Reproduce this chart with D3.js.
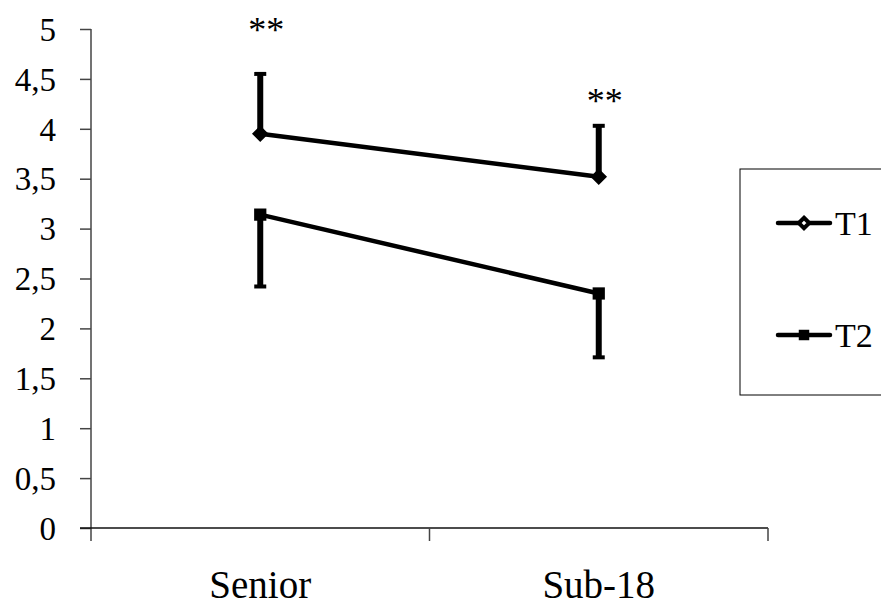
<!DOCTYPE html>
<html>
<head>
<meta charset="utf-8">
<script src="https://cdn.jsdelivr.net/npm/d3@7"></script>
<style>
  body { margin: 0; background: #fff; }
  text { font-family: "Liberation Serif", "Times New Roman", serif; fill: #000; }
</style>
</head>
<body>
<div id="chart"></div>
<script>
var width = 881,
    height = 607,
    marginLeft = 91,
    marginTop = 29,
    plotRight = 768,
    plotBottom = 528;

// data
var groups = ["Senior", "Sub-18"];
var seriesNames = ["T1", "T2"];
var t1Values = [3.95, 3.52];
var t1Errors = [0.60, 0.51];   // drawn upward
var t2Values = [3.14, 2.35];
var t2Errors = [0.72, 0.64];   // drawn downward
var yTicks = [0, 0.5, 1, 1.5, 2, 2.5, 3, 3.5, 4, 4.5, 5];
var starLabels = ["**", "**"];
var starValues = [5.05, 4.34];

var svg = d3.select("#chart").append("svg")
    .attr("width", width)
    .attr("height", height);

var x = d3.scaleBand()
    .domain(groups)
    .range([marginLeft, plotRight]);

var y = d3.scaleLinear()
    .domain([0, 5])
    .range([plotBottom, marginTop]);

// y axis
var yAxisG = svg.append("g")
    .attr("transform", `translate(${marginLeft},0)`)
    .call(d3.axisLeft(y).tickValues(yTicks).tickSize(11).tickSizeOuter(0)
        .tickFormat(d => String(d).replace(".", ",")));
yAxisG.select(".domain").remove();
yAxisG.selectAll(".tick line").attr("stroke", "#444").attr("stroke-width", 1.5);
yAxisG.selectAll(".tick text")
    .attr("x", -35)
    .attr("dy", "0.34em")
    .style("font-size", "33px")
    .style("font-family", "Liberation Serif, serif");
yAxisG.append("line")
    .attr("x1", 0).attr("x2", 0)
    .attr("y1", y(5)).attr("y2", plotBottom + 13)
    .attr("stroke", "#444").attr("stroke-width", 1.5);

// x axis
svg.append("line")
    .attr("x1", marginLeft - 11).attr("x2", plotRight)
    .attr("y1", plotBottom).attr("y2", plotBottom)
    .attr("stroke", "#111").attr("stroke-width", 1.5);
var bounds = groups.map(g => x(g)).concat([x.range()[1]]);
svg.selectAll(".xtick").data(bounds.slice(1))
    .enter().append("line")
    .attr("class", "xtick")
    .attr("x1", d => d).attr("x2", d => d)
    .attr("y1", plotBottom).attr("y2", plotBottom + 13)
    .attr("stroke", "#444").attr("stroke-width", 1.5);
svg.selectAll(".xlabel").data(groups)
    .enter().append("text")
    .attr("class", "xlabel")
    .attr("x", d => x(d) + x.bandwidth() / 2)
    .attr("y", 598)
    .attr("text-anchor", "middle")
    .style("font-size", "39px")
    .text(d => d);

var cx = d => x(d) + x.bandwidth() / 2;

// error bars
function errorBars(values, errors, dir, cls) {
    var g = svg.append("g").attr("class", cls);
    g.selectAll("line.bar").data(groups)
        .enter().append("line")
        .attr("class", "bar")
        .attr("x1", d => cx(d)).attr("x2", d => cx(d))
        .attr("y1", (d, i) => y(values[i]))
        .attr("y2", (d, i) => y(values[i] + dir * errors[i]))
        .attr("stroke", "#000").attr("stroke-width", 6);
    g.selectAll("line.cap").data(groups)
        .enter().append("line")
        .attr("class", "cap")
        .attr("x1", d => cx(d) - 6).attr("x2", d => cx(d) + 6)
        .attr("y1", (d, i) => y(values[i] + dir * errors[i]))
        .attr("y2", (d, i) => y(values[i] + dir * errors[i]))
        .attr("stroke", "#000").attr("stroke-width", 4);
}
errorBars(t1Values, t1Errors, 1, "err1");
errorBars(t2Values, t2Errors, -1, "err2");

// lines
var line = d3.line()
    .x((d, i) => cx(groups[i]))
    .y(d => y(d));
[t1Values, t2Values].forEach(function(vals) {
    svg.append("path")
        .datum(vals)
        .attr("d", line)
        .attr("fill", "none")
        .attr("stroke", "#000")
        .attr("stroke-width", 4.5);
});

var diamond = d3.symbol().type(d3.symbolDiamond2).size(120);
var square = d3.symbol().type(d3.symbolSquare).size(150);

svg.selectAll(".m1").data(t1Values)
    .enter().append("path")
    .attr("class", "m1")
    .attr("d", diamond)
    .attr("transform", (d, i) => `translate(${cx(groups[i])},${y(d)})`)
    .attr("fill", "#000").attr("stroke", "#000").attr("stroke-width", 2);
svg.selectAll(".m2").data(t2Values)
    .enter().append("path")
    .attr("class", "m2")
    .attr("d", square)
    .attr("transform", (d, i) => `translate(${cx(groups[i])},${y(d)})`)
    .attr("fill", "#000");

// significance stars
svg.selectAll(".star").data(starLabels)
    .enter().append("text")
    .attr("class", "star")
    .attr("x", (d, i) => cx(groups[i]) + 6)
    .attr("y", (d, i) => y(starValues[i]) + 18)
    .attr("text-anchor", "middle")
    .style("font-size", "36px")
    .text(d => d);

// legend
var legend = svg.append("g").attr("transform", "translate(740,169)");
legend.append("rect")
    .attr("x", 0).attr("y", 0)
    .attr("width", 160).attr("height", 226)
    .attr("fill", "#fff").attr("stroke", "#000").attr("stroke-width", 1);
var legendY = d3.scalePoint().domain(seriesNames).range([54, 166]);
var items = legend.selectAll(".item").data(seriesNames)
    .enter().append("g")
    .attr("class", "item")
    .attr("transform", d => `translate(0,${legendY(d)})`);
items.append("line")
    .attr("x1", 38).attr("x2", 90)
    .attr("y1", 0).attr("y2", 0)
    .attr("stroke", "#000").attr("stroke-width", 4.5)
    .attr("stroke-linecap", "round");
items.filter(d => d === "T1").append("path")
    .attr("d", d3.symbol().type(d3.symbolDiamond2).size(70))
    .attr("fill", "#fff").attr("stroke", "#000").attr("stroke-width", 4)
    .attr("transform", "translate(64,0)");
items.filter(d => d === "T2").append("path")
    .attr("d", d3.symbol().type(d3.symbolSquare).size(110))
    .attr("fill", "#000")
    .attr("transform", "translate(64,0)");
items.append("text")
    .attr("x", 95)
    .attr("y", 12)
    .style("font-size", "34px")
    .text(d => d);
</script>
</body>
</html>
